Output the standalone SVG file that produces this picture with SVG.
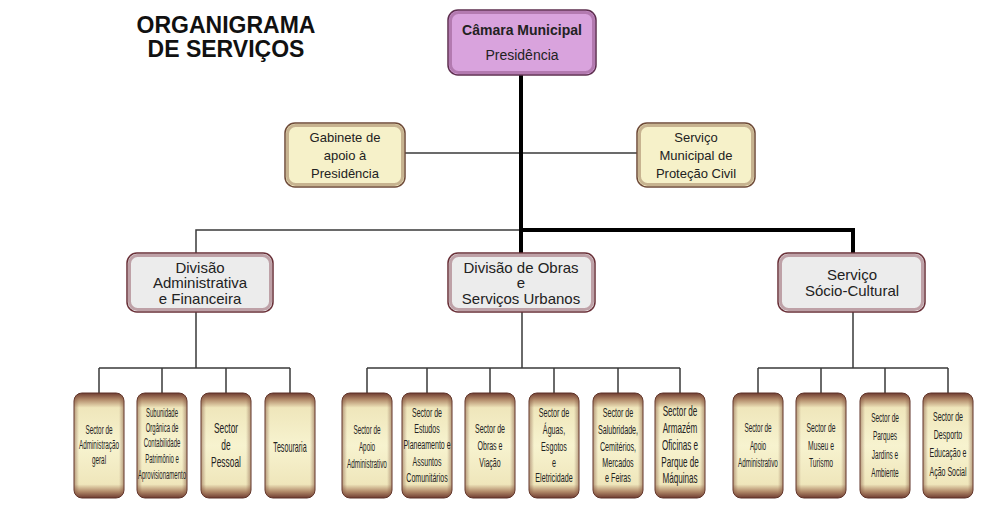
<svg xmlns="http://www.w3.org/2000/svg" width="1003" height="513" viewBox="0 0 1003 513">
<defs>
<linearGradient id="gv" x1="0" y1="0" x2="0" y2="1">
<stop offset="0" stop-color="#6e3b30"/>
<stop offset="0.06" stop-color="#b08868"/>
<stop offset="0.14" stop-color="#efe6bb"/>
<stop offset="0.5" stop-color="#f7f3cf"/>
<stop offset="0.87" stop-color="#efe6bb"/>
<stop offset="0.94" stop-color="#b08868"/>
<stop offset="1" stop-color="#6e3b30"/>
</linearGradient>
<linearGradient id="gh" x1="0" y1="0" x2="1" y2="0">
<stop offset="0" stop-color="#7a4a38" stop-opacity="0.5"/>
<stop offset="0.1" stop-color="#7a4a38" stop-opacity="0"/>
<stop offset="0.9" stop-color="#7a4a38" stop-opacity="0"/>
<stop offset="1" stop-color="#7a4a38" stop-opacity="0.5"/>
</linearGradient>
</defs>
<style>
text{font-family:"Liberation Sans",Arial,sans-serif;fill:#222;text-anchor:middle}
.title{font-size:23px;font-weight:bold;fill:#111}
.n13{font-size:13px}
.n14{font-size:14px}
.n15{font-size:15px}
.b{font-weight:bold}
.s{font-size:13.5px}
.thick{stroke:#000;stroke-width:4;fill:none}
.thin{stroke:#3a3a3a;stroke-width:1.5;fill:none}
.top{fill:#d9a3dd;stroke:#5e2f4f;stroke-width:1.5}
.topin{fill:none;stroke:#9a5f93;stroke-width:3;opacity:0.6}
.yel{fill:#f6f1c9;stroke:#6e4a38;stroke-width:1.5}
.yelin{fill:none;stroke:#a88a6a;stroke-width:3;opacity:0.6}
.gry{fill:#ececec;stroke:#6a3038;stroke-width:1.5}
.gryin{fill:none;stroke:#a0707a;stroke-width:3;opacity:0.6}
.bx{fill:url(#gv);stroke:#5e3228;stroke-width:1}
.bxh{fill:url(#gh)}
</style>
<rect width="1003" height="513" fill="#fff"/>
<g id="title">
<text class="title" x="226" y="33">ORGANIGRAMA</text>
<text class="title" x="226" y="57">DE SERVIÇOS</text>
</g>
<g id="connectors">
<path class="thin" d="M405 153 H637"/>
<path class="thin" d="M196 253 V230 H521"/>
<path class="thick" d="M521 75 V253"/>
<path class="thick" d="M519 230 H853 V253"/>
<path class="thin" d="M196 312 V368 M99 368 H290 M99 368 V393 M162 368 V393 M226 368 V393 M290 368 V393"/>
<path class="thin" d="M522 312 V368 M367 368 H680 M367 368 V393 M427 368 V393 M490 368 V393 M554 368 V393 M618 368 V393 M680 368 V393"/>
<path class="thin" d="M853 312 V368 M758 368 H948 M758 368 V393 M821 368 V393 M885 368 V393 M948 368 V393"/>
</g>
<g id="camara">
<rect class="top" x="448" y="10" width="148" height="65" rx="10"/>
<rect class="topin" x="450.5" y="12.5" width="143" height="60" rx="8"/>
<text class="n14 b" x="522" y="35">Câmara Municipal</text>
<text class="n14" x="522" y="60">Presidência</text>
</g>
<g id="gabinete">
<rect class="yel" x="285" y="123" width="120" height="64" rx="10"/>
<rect class="yelin" x="287.5" y="125.5" width="115" height="59" rx="8"/>
<text class="n13" x="345" y="142">Gabinete de</text>
<text class="n13" x="345" y="160">apoio à</text>
<text class="n13" x="345" y="178">Presidência</text>
</g>
<g id="protecao">
<rect class="yel" x="637" y="123" width="118" height="64" rx="10"/>
<rect class="yelin" x="639.5" y="125.5" width="113" height="59" rx="8"/>
<text class="n13" x="696" y="142">Serviço</text>
<text class="n13" x="696" y="160">Municipal de</text>
<text class="n13" x="696" y="178">Proteção Civil</text>
</g>
<g id="div-adm">
<rect class="gry" x="127" y="253" width="146" height="59" rx="10"/>
<rect class="gryin" x="129.5" y="255.5" width="141" height="54" rx="8"/>
<text class="n15" x="200" y="273">Divisão</text>
<text class="n15" x="200" y="288">Administrativa</text>
<text class="n15" x="200" y="304">e Financeira</text>
</g>
<g id="div-obras">
<rect class="gry" x="448" y="253" width="147" height="59" rx="10"/>
<rect class="gryin" x="450.5" y="255.5" width="142" height="54" rx="8"/>
<text class="n15" x="521" y="273">Divisão de Obras</text>
<text class="n15" x="521" y="288">e</text>
<text class="n15" x="521" y="304">Serviços Urbanos</text>
</g>
<g id="div-socio">
<rect class="gry" x="778" y="253" width="147" height="59" rx="10"/>
<rect class="gryin" x="780.5" y="255.5" width="142" height="54" rx="8"/>
<text class="n15" x="852" y="280">Serviço</text>
<text class="n15" x="852" y="296">Sócio-Cultural</text>
</g>
<!-- Left group -->
<g id="l1">
<rect class="bx" x="74" y="393" width="50" height="105" rx="8"/><rect class="bxh" x="74" y="393" width="50" height="105" rx="8"/>
<g transform="translate(99 0) scale(0.47 1)"><text class="s" x="0" y="434">Sector de</text><text class="s" x="0" y="449">Administração</text><text class="s" x="0" y="464">geral</text></g>
</g>
<g id="l2">
<rect class="bx" x="137" y="393" width="50" height="105" rx="8"/><rect class="bxh" x="137" y="393" width="50" height="105" rx="8"/>
<g transform="translate(162 0) scale(0.48 1)"><text class="s" style="font-size:12.5px" x="0" y="417">Subunidade</text><text class="s" style="font-size:12.5px" x="0" y="432">Orgânica  de</text><text class="s" style="font-size:12.5px" x="0" y="447">Contabilidade</text><text class="s" style="font-size:12.5px" x="0" y="463">Patrimônio e</text><text class="s" style="font-size:12.5px" x="0" y="479">Aprovisionamento</text></g>
</g>
<g id="l3">
<rect class="bx" x="201" y="393" width="50" height="105" rx="8"/><rect class="bxh" x="201" y="393" width="50" height="105" rx="8"/>
<g transform="translate(226 0) scale(0.56 1)"><text class="s" style="font-size:15px" x="0" y="433">Sector</text><text class="s" style="font-size:15px" x="0" y="450">de</text><text class="s" style="font-size:15px" x="0" y="467">Pessoal</text></g>
</g>
<g id="l4">
<rect class="bx" x="265" y="393" width="50" height="105" rx="8"/><rect class="bxh" x="265" y="393" width="50" height="105" rx="8"/>
<g transform="translate(290 0) scale(0.51 1)"><text class="s" style="font-size:14px" x="0" y="452">Tesouraria</text></g>
</g>
<!-- Middle group -->
<g id="m1">
<rect class="bx" x="342" y="393" width="50" height="105" rx="8"/><rect class="bxh" x="342" y="393" width="50" height="105" rx="8"/>
<g transform="translate(367 0) scale(0.47 1)"><text class="s" x="0" y="434">Sector de</text><text class="s" x="0" y="451">Apoio</text><text class="s" x="0" y="468">Administrativo</text></g>
</g>
<g id="m2">
<rect class="bx" x="402" y="393" width="50" height="105" rx="8"/><rect class="bxh" x="402" y="393" width="50" height="105" rx="8"/>
<g transform="translate(427 0) scale(0.52 1)"><text class="s" x="0" y="417">Sector de</text><text class="s" x="0" y="433">Estudos</text><text class="s" x="0" y="449">Planeamento e</text><text class="s" x="0" y="466">Assuntos</text><text class="s" x="0" y="482">Comunitários</text></g>
</g>
<g id="m3">
<rect class="bx" x="465" y="393" width="50" height="105" rx="8"/><rect class="bxh" x="465" y="393" width="50" height="105" rx="8"/>
<g transform="translate(490 0) scale(0.52 1)"><text class="s" x="0" y="433">Sector de</text><text class="s" x="0" y="450">Obras e</text><text class="s" x="0" y="467">Viação</text></g>
</g>
<g id="m4">
<rect class="bx" x="529" y="393" width="50" height="105" rx="8"/><rect class="bxh" x="529" y="393" width="50" height="105" rx="8"/>
<g transform="translate(554 0) scale(0.53 1)"><text class="s" x="0" y="417">Sector de</text><text class="s" x="0" y="434">Águas,</text><text class="s" x="0" y="451">Esgotos</text><text class="s" x="0" y="467">e</text><text class="s" x="0" y="482">Eletricidade</text></g>
</g>
<g id="m5">
<rect class="bx" x="593" y="393" width="50" height="105" rx="8"/><rect class="bxh" x="593" y="393" width="50" height="105" rx="8"/>
<g transform="translate(618 0) scale(0.53 1)"><text class="s" x="0" y="417">Sector de</text><text class="s" x="0" y="434">Salubridade,</text><text class="s" x="0" y="451">Cemitérios,</text><text class="s" x="0" y="467">Mercados</text><text class="s" x="0" y="482">e Feiras</text></g>
</g>
<g id="m6">
<rect class="bx" x="655" y="393" width="50" height="105" rx="8"/><rect class="bxh" x="655" y="393" width="50" height="105" rx="8"/>
<g transform="translate(680 0) scale(0.56 1)"><text class="s" style="font-size:14.5px" x="0" y="416">Sector de</text><text class="s" style="font-size:14.5px" x="0" y="433">Armazém</text><text class="s" style="font-size:14.5px" x="0" y="450">Oficinas e</text><text class="s" style="font-size:14.5px" x="0" y="467">Parque de</text><text class="s" style="font-size:14.5px" x="0" y="483">Máquinas</text></g>
</g>
<!-- Right group -->
<g id="r1">
<rect class="bx" x="733" y="393" width="50" height="105" rx="8"/><rect class="bxh" x="733" y="393" width="50" height="105" rx="8"/>
<g transform="translate(758 0) scale(0.47 1)"><text class="s" x="0" y="432">Sector de</text><text class="s" x="0" y="450">Apoio</text><text class="s" x="0" y="467">Administrativo</text></g>
</g>
<g id="r2">
<rect class="bx" x="796" y="393" width="50" height="105" rx="8"/><rect class="bxh" x="796" y="393" width="50" height="105" rx="8"/>
<g transform="translate(821 0) scale(0.5 1)"><text class="s" x="0" y="432">Sector de</text><text class="s" x="0" y="450">Museu e</text><text class="s" x="0" y="467">Turismo</text></g>
</g>
<g id="r3">
<rect class="bx" x="860" y="393" width="50" height="105" rx="8"/><rect class="bxh" x="860" y="393" width="50" height="105" rx="8"/>
<g transform="translate(885 0) scale(0.48 1)"><text class="s" x="0" y="422">Sector de</text><text class="s" x="0" y="440">Parques</text><text class="s" x="0" y="459">Jardins e</text><text class="s" x="0" y="477">Ambiente</text></g>
</g>
<g id="r4">
<rect class="bx" x="923" y="393" width="50" height="105" rx="8"/><rect class="bxh" x="923" y="393" width="50" height="105" rx="8"/>
<g transform="translate(948 0) scale(0.52 1)"><text class="s" x="0" y="421">Sector de</text><text class="s" x="0" y="439">Desporto</text><text class="s" x="0" y="457">Educação e</text><text class="s" x="0" y="476">Ação Social</text></g>
</g>
</svg>
